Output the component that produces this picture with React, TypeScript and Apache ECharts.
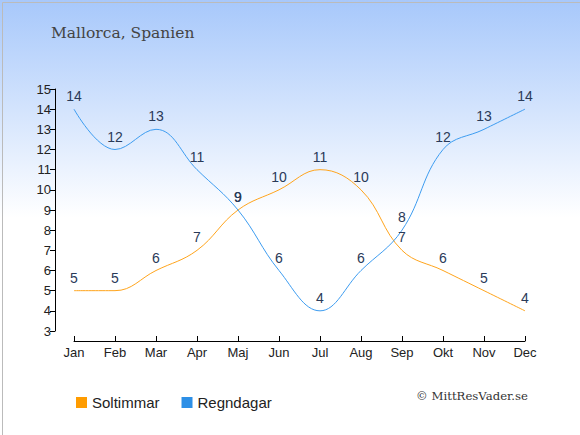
import React, { useEffect, useRef } from "react";
import * as echarts from "echarts";

const months = ["Jan", "Feb", "Mar", "Apr", "Maj", "Jun", "Jul", "Aug", "Sep", "Okt", "Nov", "Dec"];
const soltimmar = [5, 5, 6, 7, 9, 10, 11, 10, 7, 6, 5, 4];
const regndagar = [14, 12, 13, 11, 9, 6, 4, 6, 8, 12, 13, 14];
const seriesNames = ["Soltimmar", "Regndagar"];
const titleText = "Mallorca, Spanien";
const credit = "© MittResVader.se";

const sans = "Liberation Sans";

export default function App() {
  const ref = useRef<HTMLDivElement>(null);
  useEffect(() => {
    if (!ref.current) return;
    const chart = echarts.init(ref.current, null, { renderer: "svg" });
    const labelStyle = {
      show: true,
      position: "top",
      distance: 6,
      color: "#2a3a58",
      fontSize: 14,
      fontFamily: sans,
    };
    chart.setOption({
      animation: false,
      backgroundColor: new echarts.graphic.LinearGradient(0, 0, 0, 1, [
        { offset: 0, color: "#a7c8fb" },
        { offset: 0.5, color: "#ffffff" },
        { offset: 1, color: "#ffffff" },
      ]),
      title: {
        text: titleText,
        left: 46,
        top: 20,
        textStyle: {
          fontFamily: "DejaVu Serif",
          fontWeight: "normal",
          fontSize: 15.5,
          color: "#444",
        },
      },
      legend: {
        left: 71,
        top: 390,
        itemWidth: 11,
        itemHeight: 11,
        itemGap: 22,
        icon: "rect",
        textStyle: { fontSize: 15, color: "#222", fontFamily: sans },
        data: [
          { name: seriesNames[0], itemStyle: { color: "#ff9c00" } },
          { name: seriesNames[1], itemStyle: { color: "#2d8fe6" } },
        ],
      },
      grid: { left: 74, right: 55, top: 89, bottom: 104 },
      xAxis: {
        type: "category",
        data: months,
        boundaryGap: false,
        offset: 10,
        axisLine: { lineStyle: { color: "#000", width: 1 } },
        axisTick: { inside: true, length: 5, lineStyle: { color: "#000" } },
        axisLabel: { color: "#222", fontSize: 13, margin: 5, fontFamily: sans },
        splitLine: { show: false },
      },
      yAxis: {
        type: "value",
        min: 3,
        max: 15,
        interval: 1,
        offset: 19,
        axisLine: { show: true, lineStyle: { color: "#000", width: 1 } },
        axisTick: { show: true, length: 5, lineStyle: { color: "#000" } },
        axisLabel: { color: "#222", fontSize: 13, margin: 4, fontFamily: sans },
        splitLine: { show: false },
      },
      graphic: [
        {
          type: "text",
          right: 52,
          top: 390,
          style: {
            text: credit,
            fontFamily: "DejaVu Serif",
            fontSize: 11.7,
            fill: "#333",
          },
        },
        {
          type: "rect",
          left: 0,
          top: 0,
          shape: { x: 0.5, y: 0.5, width: 579, height: 434 },
          style: { fill: "none", stroke: "#bbb", lineWidth: 1 },
          silent: true,
        },
      ],
      series: [
        {
          name: seriesNames[0],
          type: "line",
          data: soltimmar,
          smooth: 0.4,
          symbol: "circle",
          symbolSize: 0,
          showSymbol: true,
          lineStyle: { color: "#ffa41c", width: 1 },
          itemStyle: { color: "#ff9c00" },
          label: labelStyle,
        },
        {
          name: seriesNames[1],
          type: "line",
          data: regndagar,
          smooth: 0.4,
          symbol: "circle",
          symbolSize: 0,
          showSymbol: true,
          lineStyle: { color: "#3d9cf0", width: 1 },
          itemStyle: { color: "#2d8fe6" },
          label: labelStyle,
        },
      ],
    });
    return () => chart.dispose();
  }, []);
  return (
    <div
      ref={ref}
      style={{ position: "absolute", left: 0, top: 0, width: 580, height: 435 }}
    />
  );
}
